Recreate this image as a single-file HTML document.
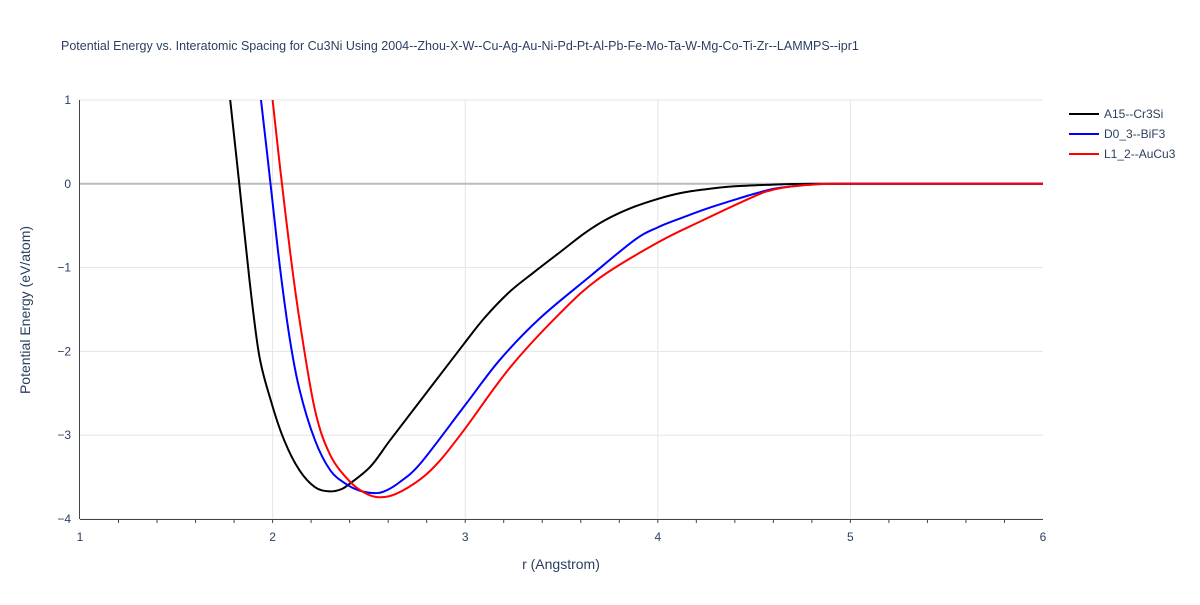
<!DOCTYPE html>
<html><head><meta charset="utf-8"><style>
body{margin:0;background:#fff;font-family:"Liberation Sans",sans-serif}
</style></head><body>
<svg width="1200" height="600" font-family="Liberation Sans, sans-serif">
<text x="61" y="50" font-size="12.5" fill="#2a3f5f">Potential Energy vs. Interatomic Spacing for Cu3Ni Using 2004--Zhou-X-W--Cu-Ag-Au-Ni-Pd-Pt-Al-Pb-Fe-Mo-Ta-W-Mg-Co-Ti-Zr--LAMMPS--ipr1</text>
<g id="grid"></g>
<g id="axes"></g>
<defs><clipPath id="clip"><rect x="80" y="100" width="963" height="419"/></clipPath></defs>
<g id="lines" clip-path="url(#clip)"></g>
<text x="561" y="569" font-size="14" fill="#2a3f5f" text-anchor="middle">r (Angstrom)</text>
<text transform="translate(30,310) rotate(-90)" font-size="14" fill="#2a3f5f" text-anchor="middle">Potential Energy (eV/atom)</text>
<g id="legend"></g>
</svg>
<script>
const xTicks=[1,2,3,4,5,6];
const yTicks=[-4,-3,-2,-1,0,1];
const seriesNames=["A15--Cr3Si","D0_3--BiF3","L1_2--AuCu3"];
const seriesColors=["#000","#00f","#f00"];
const rA=[1.76,1.78,1.83,1.88,1.93,1.99,2.06,2.14,2.22,2.29,2.35,2.40,2.51,2.61,2.77,2.99,3.10,3.23,3.36,3.49,3.62,3.73,3.86,4.0,4.12,4.25,4.4,4.6,4.8,5,6];
const eA=[1.3,1.0,-0.07,-1.15,-2.04,-2.58,-3.06,-3.42,-3.62,-3.67,-3.65,-3.58,-3.37,-3.06,-2.58,-1.92,-1.6,-1.29,-1.05,-0.82,-0.59,-0.43,-0.29,-0.18,-0.11,-0.065,-0.03,-0.01,0,0,0];
const rB=[1.92,1.94,1.99,2.04,2.09,2.14,2.22,2.30,2.38,2.45,2.52,2.58,2.66,2.77,3.0,3.18,3.39,3.65,3.88,4.0,4.12,4.25,4.4,4.5,4.6,4.7,4.8,5,6];
const eB=[1.3,1.0,-0.02,-1.03,-1.86,-2.46,-3.06,-3.42,-3.58,-3.66,-3.69,-3.67,-3.56,-3.33,-2.64,-2.1,-1.6,-1.1,-0.67,-0.52,-0.41,-0.3,-0.19,-0.12,-0.06,-0.03,-0.01,0,0];
const rC=[1.98,2.0,2.04,2.09,2.14,2.22,2.30,2.40,2.48,2.55,2.64,2.77,2.87,3.0,3.23,3.49,3.70,4.0,4.22,4.5,4.6,4.7,4.8,5,6];
const eC=[1.3,1.0,0.17,-0.79,-1.63,-2.7,-3.24,-3.55,-3.69,-3.74,-3.7,-3.52,-3.3,-2.92,-2.2,-1.55,-1.12,-0.7,-0.45,-0.15,-0.07,-0.03,-0.01,0,0];
const X=v=>80+(v-1)*192.6, Y=v=>100+(1-v)*83.8;
const NS="http://www.w3.org/2000/svg";
const mk=(t,a,p)=>{const e=document.createElementNS(NS,t);for(const k in a)e.setAttribute(k,a[k]);p.appendChild(e);return e;};
const grid=document.getElementById('grid'),axes=document.getElementById('axes');
xTicks.forEach(t=>{
 if(t>1&&t<6){const g=mk('line',{x1:X(t),x2:X(t),y1:100,y2:519,stroke:'#e5e5e5'},grid);
 }
 const l=mk('text',{x:X(t),y:541,'font-size':12,fill:'#2a3f5f','text-anchor':'middle'},axes);l.textContent=t;
 
});
for(let v=1.2;v<6;v+=0.2){mk('line',{x1:X(v),x2:X(v),y1:519,y2:523,stroke:'#444'},axes);}
yTicks.forEach(t=>{
 const g=mk('line',{x1:80,x2:1043,y1:Y(t),y2:Y(t),stroke:t===0?'#bbb':'#e5e5e5','stroke-width':t===0?2:1},grid);
 
 const l=mk('text',{x:71,y:Y(t)+4,'font-size':12,fill:'#2a3f5f','text-anchor':'end'},axes);l.textContent=t<0?'\u2212'+(-t):t;
 
});
const ax=mk('line',{x1:79.5,x2:79.5,y1:100,y2:519,stroke:'#444'},axes);

const bx=mk('line',{x1:80,x2:1043,y1:519.5,y2:519.5,stroke:'#444'},axes);

function spline(P){
 let d='M'+P[0][0].toFixed(1)+','+P[0][1].toFixed(1);
 for(let i=0;i<P.length-1;i++){
  const p0=P[Math.max(i-1,0)],p1=P[i],p2=P[i+1],p3=P[Math.min(i+2,P.length-1)];
  const c1=[p1[0]+(p2[0]-p0[0])/6,p1[1]+(p2[1]-p0[1])/6];
  const c2=[p2[0]-(p3[0]-p1[0])/6,p2[1]-(p3[1]-p1[1])/6];
  d+=' C'+c1.map(v=>v.toFixed(1))+' '+c2.map(v=>v.toFixed(1))+' '+p2.map(v=>v.toFixed(1));
 }
 return d;
}
const data=[[rA,eA],[rB,eB],[rC,eC]];
const lines=document.getElementById('lines'),leg=document.getElementById('legend');
data.forEach((d,i)=>{
 const P=d[0].map((r,j)=>[X(r),Y(d[1][j])]);
 const p=mk('path',{d:spline(P),fill:'none',stroke:seriesColors[i],'stroke-width':2,'stroke-linejoin':'round'},lines);
 
 const g=mk('g',{},leg);
 
 const y=114+i*20;
 mk('line',{x1:1069,x2:1099,y1:y,y2:y,stroke:seriesColors[i],'stroke-width':2},g);
 const t=mk('text',{x:1104,y:y+4,'font-size':12,fill:'#2a3f5f'},g);t.textContent=seriesNames[i];
});
</script>
</body></html>
